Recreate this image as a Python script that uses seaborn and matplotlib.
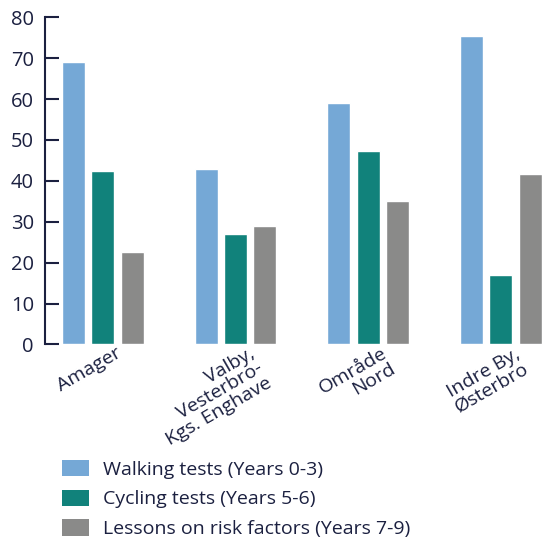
import matplotlib
matplotlib.use("Agg")
import matplotlib.pyplot as plt
import matplotlib.transforms as mtransforms
from matplotlib.patches import Patch
import pandas as pd
import seaborn as sns

# Share of pupils by district and activity (percent)
areas = ["Amager", "Valby,\nVesterbro-\nKgs. Enghave", "Område\nNord", "Indre By,\nØsterbro"]
series = ["Walking tests (Years 0-3)", "Cycling tests (Years 5-6)", "Lessons on risk factors (Years 7-9)"]
walking = [69, 43, 59, 75.5]
cycling = [42.5, 27, 47.3, 17]
risk = [22.5, 29, 35, 41.7]
colors = ["#75A8D6", "#11827B", "#8A8A89"]
yticks = [0, 10, 20, 30, 40, 50, 60, 70, 80]

ink = "#1B2040"

sns.set_theme(style="white")
plt.rcParams["font.family"] = ["Open Sans", "DejaVu Sans"]

rows = []
for s, vals in zip(series, [walking, cycling, risk]):
    for a, v in zip(areas, vals):
        rows.append({"area": a, "series": s, "value": v})
df = pd.DataFrame(rows)

fig = plt.figure(figsize=(5.42, 5.39), dpi=100)
ax = fig.add_axes([0.083, 0.361, 0.917, 0.607])

sns.barplot(data=df, x="area", y="value", hue="series", hue_order=series,
            palette=colors, saturation=1, width=0.665, gap=0.22, ax=ax)

ax.set_ylim(0, 80)
ax.set_xlim(-0.436, 3.31)
ax.set_yticks(yticks)
ax.set_xlabel("")
ax.set_ylabel("")

for side in ["top", "right", "bottom"]:
    ax.spines[side].set_visible(False)
ax.spines["left"].set_color(ink)
ax.spines["left"].set_linewidth(1.5)

ax.tick_params(axis="y", direction="in", length=10, width=1.5, color=ink,
               labelcolor=ink, labelsize=14.5, pad=8, left=True)
ax.tick_params(axis="x", length=0, labelcolor=ink, labelsize=14, pad=0)

offset = mtransforms.ScaledTranslation(13 / 100, 0, fig.dpi_scale_trans)
for lbl in ax.get_xticklabels():
    lbl.set_rotation(30)
    lbl.set_ha("right")
    lbl.set_rotation_mode("anchor")
    lbl.set_multialignment("right")
    lbl.set_linespacing(0.95)
    lbl.set_transform(lbl.get_transform() + offset)

ax.get_legend().remove()
handles = [Patch(facecolor=c, edgecolor="none") for c in colors]
fig.legend(handles, series, loc="upper left", bbox_to_anchor=(0.114, 0.147),
           frameon=False, fontsize=14, labelcolor=ink, handlelength=1.4,
           handleheight=0.92, handletextpad=0.72, labelspacing=0.56,
           borderpad=0, borderaxespad=0)

fig.savefig("out.png", dpi=100)
